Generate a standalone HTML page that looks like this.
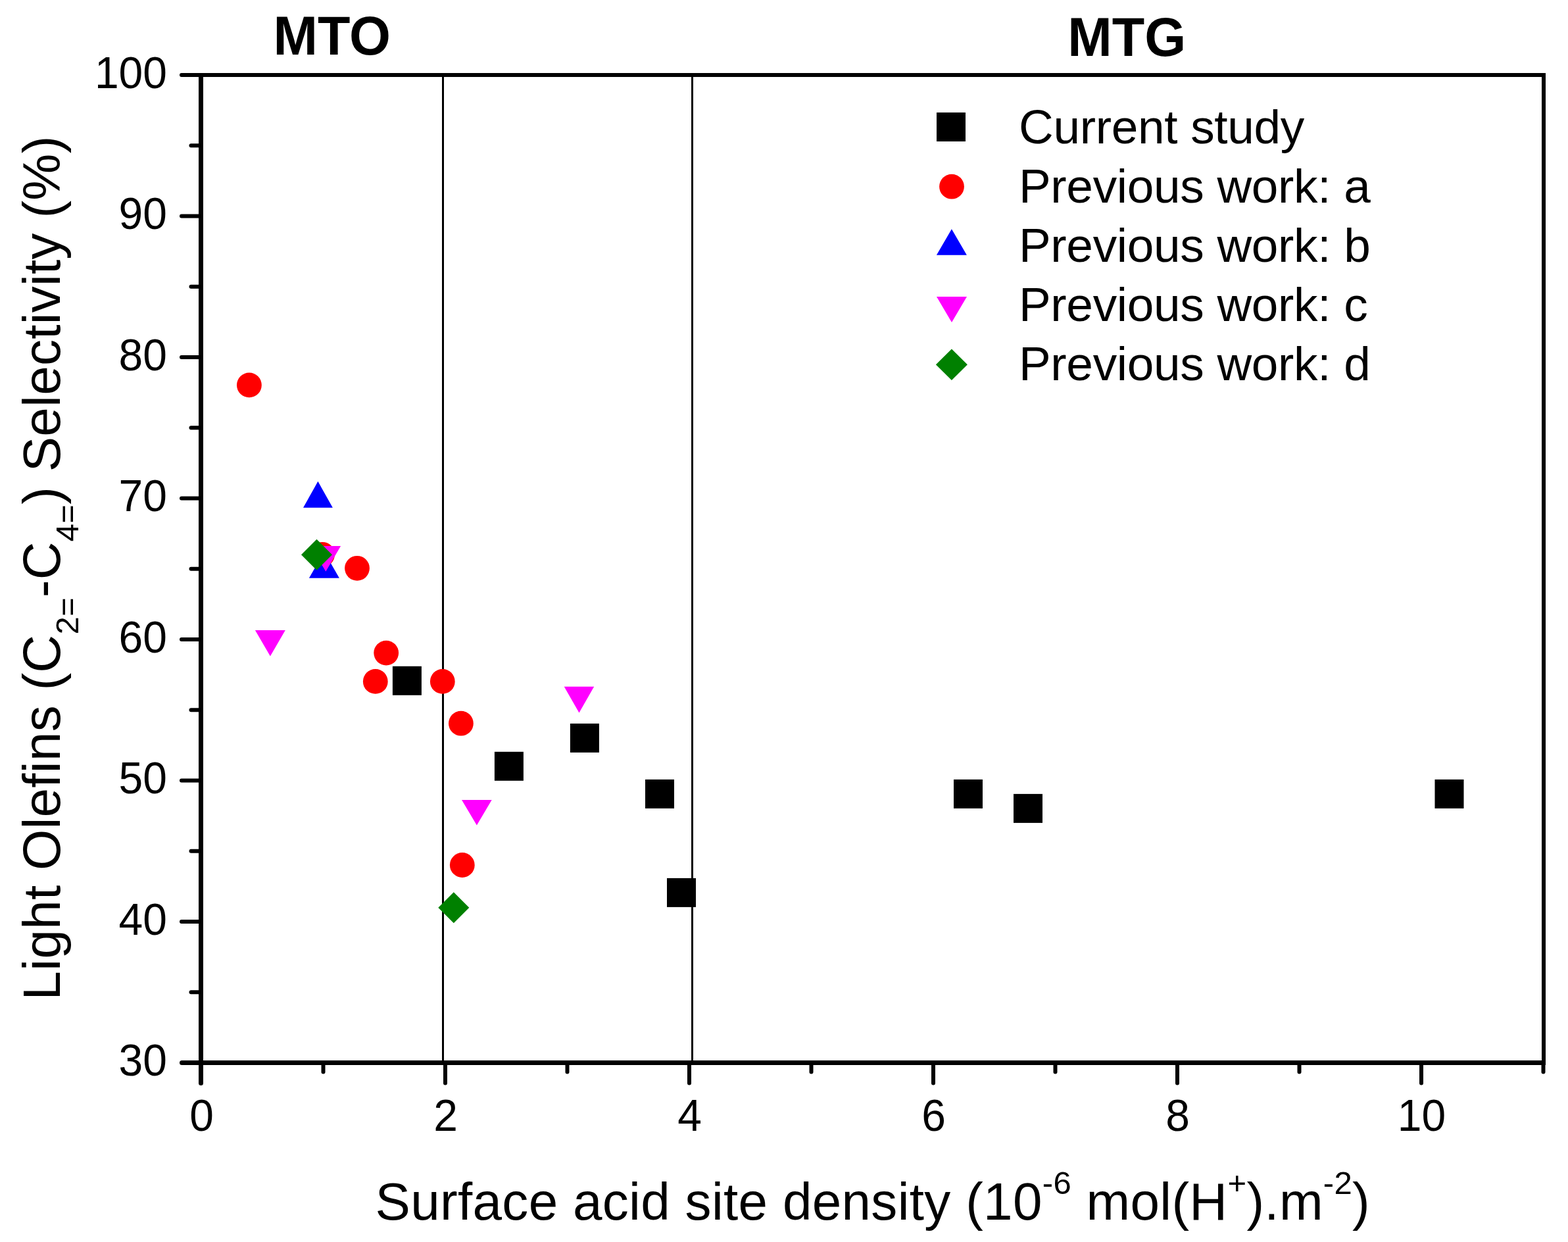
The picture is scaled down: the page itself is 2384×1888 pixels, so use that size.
<!DOCTYPE html>
<html><head><meta charset="utf-8"><title>Light Olefins Selectivity vs Surface acid site density</title>
<style>
html,body{margin:0;padding:0;background:#fff;}
body{width:2384px;height:1888px;overflow:hidden;}
svg{display:block;}
text{font-family:"Liberation Sans", Arial, sans-serif;fill:#000;}
</style></head>
<body>
<svg width="2384" height="1888" viewBox="0 0 2384 1888">
<rect x="0" y="0" width="2384" height="1888" fill="#fff"/>
<rect x="302" y="111" width="7" height="1508" fill="#000"/>
<rect x="2344" y="111" width="6" height="1508" fill="#000"/>
<rect x="302" y="111" width="2048" height="6" fill="#000"/>
<rect x="302" y="1612" width="2048" height="7" fill="#000"/>
<line x1="276.5" y1="1615.5" x2="303" y2="1615.5" stroke="#000" stroke-width="7" stroke-linecap="round"/>
<line x1="290.5" y1="1508.2" x2="303" y2="1508.2" stroke="#000" stroke-width="6" stroke-linecap="round"/>
<line x1="276" y1="1401.0" x2="303" y2="1401.0" stroke="#000" stroke-width="6" stroke-linecap="round"/>
<line x1="290.5" y1="1293.8" x2="303" y2="1293.8" stroke="#000" stroke-width="6" stroke-linecap="round"/>
<line x1="276" y1="1186.5" x2="303" y2="1186.5" stroke="#000" stroke-width="6" stroke-linecap="round"/>
<line x1="290.5" y1="1079.2" x2="303" y2="1079.2" stroke="#000" stroke-width="6" stroke-linecap="round"/>
<line x1="276" y1="972.0" x2="303" y2="972.0" stroke="#000" stroke-width="6" stroke-linecap="round"/>
<line x1="290.5" y1="864.8" x2="303" y2="864.8" stroke="#000" stroke-width="6" stroke-linecap="round"/>
<line x1="276" y1="757.5" x2="303" y2="757.5" stroke="#000" stroke-width="6" stroke-linecap="round"/>
<line x1="290.5" y1="650.2" x2="303" y2="650.2" stroke="#000" stroke-width="6" stroke-linecap="round"/>
<line x1="276" y1="543.0" x2="303" y2="543.0" stroke="#000" stroke-width="6" stroke-linecap="round"/>
<line x1="290.5" y1="435.8" x2="303" y2="435.8" stroke="#000" stroke-width="6" stroke-linecap="round"/>
<line x1="276" y1="328.5" x2="303" y2="328.5" stroke="#000" stroke-width="6" stroke-linecap="round"/>
<line x1="290.5" y1="221.2" x2="303" y2="221.2" stroke="#000" stroke-width="6" stroke-linecap="round"/>
<line x1="276" y1="114.0" x2="303" y2="114.0" stroke="#000" stroke-width="6" stroke-linecap="round"/>
<line x1="305.5" y1="1617" x2="305.5" y2="1646.5" stroke="#000" stroke-width="7" stroke-linecap="round"/>
<line x1="491.5" y1="1617" x2="491.5" y2="1629.5" stroke="#000" stroke-width="6" stroke-linecap="round"/>
<line x1="677.0" y1="1617" x2="677.0" y2="1646.5" stroke="#000" stroke-width="6" stroke-linecap="round"/>
<line x1="862.5" y1="1617" x2="862.5" y2="1629.5" stroke="#000" stroke-width="6" stroke-linecap="round"/>
<line x1="1048.0" y1="1617" x2="1048.0" y2="1646.5" stroke="#000" stroke-width="6" stroke-linecap="round"/>
<line x1="1233.5" y1="1617" x2="1233.5" y2="1629.5" stroke="#000" stroke-width="6" stroke-linecap="round"/>
<line x1="1419.0" y1="1617" x2="1419.0" y2="1646.5" stroke="#000" stroke-width="6" stroke-linecap="round"/>
<line x1="1604.5" y1="1617" x2="1604.5" y2="1629.5" stroke="#000" stroke-width="6" stroke-linecap="round"/>
<line x1="1790.0" y1="1617" x2="1790.0" y2="1646.5" stroke="#000" stroke-width="6" stroke-linecap="round"/>
<line x1="1975.5" y1="1617" x2="1975.5" y2="1629.5" stroke="#000" stroke-width="6" stroke-linecap="round"/>
<line x1="2161.0" y1="1617" x2="2161.0" y2="1646.5" stroke="#000" stroke-width="6" stroke-linecap="round"/>
<line x1="2346.5" y1="1617" x2="2346.5" y2="1629.5" stroke="#000" stroke-width="6" stroke-linecap="round"/>
<rect x="672" y="117" width="3" height="1495" fill="#000"/>
<rect x="1051" y="117" width="3" height="1495" fill="#000"/>
<rect x="596.9" y="1012.8" width="44" height="44" fill="#000"/>
<rect x="751.9" y="1142.8" width="44" height="44" fill="#000"/>
<rect x="866.9" y="1099.9" width="44" height="44" fill="#000"/>
<rect x="981.0" y="1184.9" width="44" height="44" fill="#000"/>
<rect x="1014.0" y="1334.9" width="44" height="44" fill="#000"/>
<rect x="1450.0" y="1184.9" width="44" height="44" fill="#000"/>
<rect x="1541.0" y="1206.9" width="44" height="44" fill="#000"/>
<rect x="2181.5" y="1184.9" width="44" height="44" fill="#000"/>
<circle cx="378.9" cy="585.4" r="18.9" fill="#f00"/>
<circle cx="490.2" cy="842.8" r="18.9" fill="#f00"/>
<circle cx="543" cy="863.8" r="18.9" fill="#f00"/>
<circle cx="587.2" cy="992.6" r="18.9" fill="#f00"/>
<circle cx="570.8" cy="1035.9" r="18.9" fill="#f00"/>
<circle cx="672.8" cy="1035.9" r="18.9" fill="#f00"/>
<circle cx="700.9" cy="1099.7" r="18.9" fill="#f00"/>
<circle cx="702.8" cy="1315" r="18.9" fill="#f00"/>
<polygon points="483.4,731.8 505.9,771.8 461,771.8" fill="#00f"/>
<polygon points="492.9,838.7 515.9,878.7 469.9,878.7" fill="#00f"/>
<polygon points="387.9,958 433.8,958 410.9,997.4" fill="#f0f"/>
<polygon points="472.5,830 518.1,830 495.3,868.8" fill="#f0f"/>
<polygon points="702,1216 747.7,1216 724.9,1254.6" fill="#f0f"/>
<polygon points="857.7,1043.8 903.2,1043.8 880.5,1083.6" fill="#f0f"/>
<polygon points="481.5,819.8 505.0,843.3 481.5,866.8 458.0,843.3" fill="#008000"/>
<polygon points="689.8,1356.2 713.3,1379.7 689.8,1403.2 666.3,1379.7" fill="#008000"/>
<rect x="1424" y="171" width="44" height="44" fill="#000"/>
<circle cx="1447" cy="283.7" r="18.9" fill="#f00"/>
<polygon points="1446.9,348.2 1469.9,387.7 1423.9,387.7" fill="#00f"/>
<polygon points="1424,451.1 1470,451.1 1447,489.9" fill="#f0f"/>
<polygon points="1446.9,530.4 1470.9,554.2 1446.9,578.1 1422.9,554.2" fill="#008000"/>
<text transform="translate(254,1635.1) scale(1,1.0407)" text-anchor="end" font-size="66">30</text>
<text transform="translate(254,1420.6) scale(1,1.0407)" text-anchor="end" font-size="66">40</text>
<text transform="translate(254,1206.1) scale(1,1.0407)" text-anchor="end" font-size="66">50</text>
<text transform="translate(254,991.6) scale(1,1.0407)" text-anchor="end" font-size="66">60</text>
<text transform="translate(254,777.1) scale(1,1.0407)" text-anchor="end" font-size="66">70</text>
<text transform="translate(254,562.6) scale(1,1.0407)" text-anchor="end" font-size="66">80</text>
<text transform="translate(254,348.1) scale(1,1.0407)" text-anchor="end" font-size="66">90</text>
<text transform="translate(254,133.6) scale(1,1.0407)" text-anchor="end" font-size="66">100</text>
<text transform="translate(306.5,1718.5) scale(1,1.0407)" text-anchor="middle" font-size="66">0</text>
<text transform="translate(677.5,1718.5) scale(1,1.0407)" text-anchor="middle" font-size="66">2</text>
<text transform="translate(1048.5,1718.5) scale(1,1.0407)" text-anchor="middle" font-size="66">4</text>
<text transform="translate(1419.5,1718.5) scale(1,1.0407)" text-anchor="middle" font-size="66">6</text>
<text transform="translate(1790.5,1718.5) scale(1,1.0407)" text-anchor="middle" font-size="66">8</text>
<text transform="translate(2161.5,1718.5) scale(1,1.0407)" text-anchor="middle" font-size="66">10</text>
<text transform="translate(415.5,82.5) scale(1,1.0407)" font-size="81" font-weight="bold">MTO</text>
<text transform="translate(1623.3,84.5) scale(1,1.0407)" font-size="81" font-weight="bold">MTG</text>
<text x="1549" y="218.2" font-size="73" letter-spacing="-0.32">Current study</text>
<text x="1549" y="308.1" font-size="73" letter-spacing="-0.32">Previous work: a</text>
<text x="1549" y="398.1" font-size="73" letter-spacing="-0.32">Previous work: b</text>
<text x="1549" y="488.2" font-size="73" letter-spacing="-0.32">Previous work: c</text>
<text x="1549" y="578.3" font-size="73" letter-spacing="-0.32">Previous work: d</text>
<text transform="translate(91.2,1520.4) rotate(-90)" font-size="80" letter-spacing="0.28">Light Olefins (C<tspan font-size="49" dy="28">2=</tspan><tspan dy="-28">-C</tspan><tspan font-size="49" dy="28">4=</tspan><tspan dy="-28">) Selectivity (%)</tspan></text>
<text x="570.5" y="1854" font-size="80" letter-spacing="0.32">Surface acid site density (10<tspan font-size="49" dy="-39">-6</tspan><tspan dy="39"> mol(H</tspan><tspan font-size="49" dy="-39">+</tspan><tspan dy="39">).m</tspan><tspan font-size="49" dy="-39">-2</tspan><tspan dy="39">)</tspan></text>
</svg>
</body></html>
